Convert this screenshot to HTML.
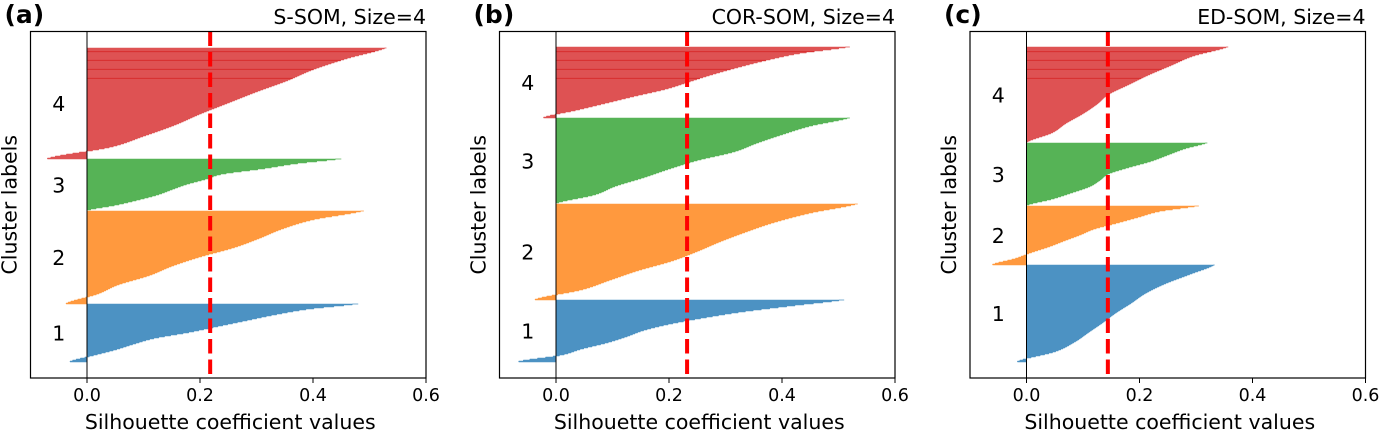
<!DOCTYPE html>
<html><head><meta charset="utf-8">
<style>
html,body{margin:0;padding:0;background:#fff;}
svg{display:block;font-family:"DejaVu Sans","Liberation Sans",sans-serif;}
</style></head>
<body>
<svg id="chart" width="1380" height="437" viewBox="0 0 1380 437" xmlns="http://www.w3.org/2000/svg"></svg>
<script>
const panelTitles = ["S-SOM, Size=4", "COR-SOM, Size=4", "ED-SOM, Size=4"];
const panelLetters = ["(a)", "(b)", "(c)"];
const clusterNames = ["1", "2", "3", "4"];
const meanValues = [0.218, 0.232, 0.144];
// cluster sizes (samples), bottom to top, per panel
const sizesA = [58, 93, 52, 111];
const sizesB = [62, 96, 86, 71];
const sizesC = [97, 59, 63, 96];
// sorted silhouette profiles (min -> max) for clusters 1..4
const profA1 = [-0.03,0.01,0.05,0.083,0.12,0.18,0.23,0.28,0.33,0.39,0.48];
const profA2 = [-0.037,0.018,0.055,0.11,0.15,0.2,0.26,0.305,0.345,0.40,0.49];
const profA3 = [0.0,0.05,0.09,0.125,0.15,0.176,0.21,0.24,0.31,0.37,0.45];
const profA4 = [-0.07,0.04,0.10,0.155,0.2,0.25,0.30,0.354,0.40,0.46,0.53];
const profB1 = [-0.066,0.008,0.045,0.09,0.125,0.155,0.2,0.26,0.33,0.42,0.51];
const profB2 = [-0.037,0.045,0.095,0.145,0.205,0.25,0.29,0.335,0.385,0.45,0.534];
const profB3 = [0.0,0.068,0.105,0.155,0.2,0.25,0.315,0.355,0.40,0.45,0.52];
const profB4 = [-0.022,0.035,0.088,0.14,0.195,0.235,0.275,0.32,0.37,0.43,0.52];
const profC1 = [-0.016,0.05,0.085,0.11,0.135,0.158,0.185,0.21,0.245,0.29,0.333];
const profC2 = [-0.06,-0.02,0.008,0.04,0.067,0.095,0.12,0.16,0.198,0.236,0.305];
const profC3 = [0.0,0.045,0.08,0.112,0.13,0.145,0.18,0.22,0.25,0.28,0.32];
const profC4 = [0.0,0.045,0.07,0.1,0.125,0.145,0.18,0.215,0.255,0.295,0.357];
const xTicks = [0.0, 0.2, 0.4, 0.6];
const xTickLabels = ["0.0", "0.2", "0.4", "0.6"];

const panelsSizes = [sizesA, sizesB, sizesC];
const panelsProfiles = [[profA1,profA2,profA3,profA4],[profB1,profB2,profB3,profB4],[profC1,profC2,profC3,profC4]];
const colors = ["#4c92c3", "#ff993e", "#56b356", "#de5253"];
const edge = ["#1f77b4", "#ff7f0e", "#2ca02c", "#d62728"];
const panelLeft = [30.5, 499.5, 970];
const X_MIN = -0.1, X_MAX = 0.6, PLOT_W = 395.5;
const TOP = 31.5, BOTTOM = 378, Y_MAX = 346.5, Y_START = 16;
const NS = "http://www.w3.org/2000/svg";
const svg = document.getElementById('chart');

function mk(tag, attrs, parent){
  const e = document.createElementNS(NS, tag);
  for (const k in attrs) e.setAttribute(k, attrs[k]);
  (parent||svg).appendChild(e);
  return e;
}
function sample(prof, f){
  const k = Math.min(Math.floor(f), prof.length - 2);
  const t = f - k;
  const p0 = prof[Math.max(k-1,0)], p1 = prof[k], p2 = prof[k+1], p3 = prof[Math.min(k+2, prof.length-1)];
  const t2 = t*t, t3 = t2*t;
  return 0.5*((2*p1) + (-p0+p2)*t + (2*p0-5*p1+4*p2-p3)*t2 + (-p0+3*p1-3*p2+p3)*t3);
}

for (let p = 0; p < 3; p++) {
  const L = panelLeft[p];
  const xs = v => L + (v - X_MIN) / (X_MAX - X_MIN) * PLOT_W;
  const ys = u => BOTTOM - u / Y_MAX * (BOTTOM - TOP);
  const g = mk('g', {});
  
  

  let start = Y_START;
  for (let c = 0; c < 4; c++) {
    const n = panelsSizes[p][c];
    const prof = panelsProfiles[p][c];
    let pts = [[xs(0), ys(start)]];
    const steps = Math.round(n);
    let prevX = null;
    for (let i = 0; i <= steps; i++) {
      const f = i / steps * (prof.length - 1);
      const v = sample(prof, f);
      const y0 = ys(start + n * i / steps);
      const xv = xs(v);
      if (prevX !== null) pts.push([prevX, y0]);
      pts.push([xv, y0]);
      prevX = xv;
    }
    pts.push([xs(0), ys(start + n)]);
    const poly = mk('polygon', {points: pts.map(q => q[0].toFixed(2)+','+q[1].toFixed(2)).join(' '), fill: colors[c], stroke: colors[c], 'stroke-width': 0.5}, g);
    
    
    if (c === 3) {
      const cid = 'clip' + p;
      const cp = mk('clipPath', {id: cid}, g);
      mk('polygon', {points: poly.getAttribute('points')}, cp);
      [51.7, 60.3, 69.3, 78.3].forEach(yy => {
        const ln = mk('line', {x1: xs(0), x2: L + PLOT_W, y1: yy, y2: yy, stroke: edge[3], 'stroke-width': 0.8, 'clip-path': 'url(#' + cid + ')'}, g);
        
        
      });
    }
    const lbl = mk('text', {x: xs(-0.05), y: ys(start + n / 2) + 7.5, 'font-size': 20.5, 'text-anchor': 'middle', fill: '#000'}, g);
    lbl.textContent = clusterNames[c];
    
    
    start += n;
  }
  const zl = mk('line', {x1: xs(0), x2: xs(0), y1: TOP, y2: BOTTOM, stroke: '#000', 'stroke-width': 1}, g);
  
  
  const ml = mk('line', {x1: xs(meanValues[p]), x2: xs(meanValues[p]), y1: TOP, y2: BOTTOM, stroke: '#ff0000', 'stroke-width': 4, 'stroke-dasharray': '14.5,6'}, g);
  
  
  const fr = mk('rect', {x: L, y: TOP, width: PLOT_W, height: BOTTOM - TOP, fill: 'none', stroke: '#000', 'stroke-width': 1.2}, g);
  
  
  xTicks.forEach((tv, i) => {
    const tk = mk('line', {x1: xs(tv), x2: xs(tv), y1: BOTTOM, y2: BOTTOM + 5, stroke: '#000', 'stroke-width': 1}, g);
    
    
    const tl = mk('text', {x: xs(tv), y: 401, 'font-size': 17.5, 'text-anchor': 'middle', fill: '#000'}, g);
    tl.textContent = xTickLabels[i];
    
    
  });
  const xt = mk('text', {x: L + PLOT_W / 2 + 2, y: 429, 'font-size': 20.5, 'text-anchor': 'middle', fill: '#000'}, g);
  xt.textContent = 'Silhouette coefficient values';
  
  
  const yt = mk('text', {x: 0, y: 0, 'font-size': 20.5, 'text-anchor': 'middle', fill: '#000', transform: 'translate(' + (L - 14) + ',' + ((TOP + BOTTOM) / 2) + ') rotate(-90)'}, g);
  yt.textContent = 'Cluster labels';
  
  
  const pl = mk('text', {x: L - 26, y: 23, 'font-size': 25, 'font-weight': 'bold', fill: '#000'}, g);
  pl.textContent = panelLetters[p];
  
  
  const tt = mk('text', {x: L + PLOT_W, y: 24, 'font-size': 20.5, 'text-anchor': 'end', fill: '#000'}, g);
  tt.textContent = panelTitles[p];
  
  
}
</script>
</body></html>
